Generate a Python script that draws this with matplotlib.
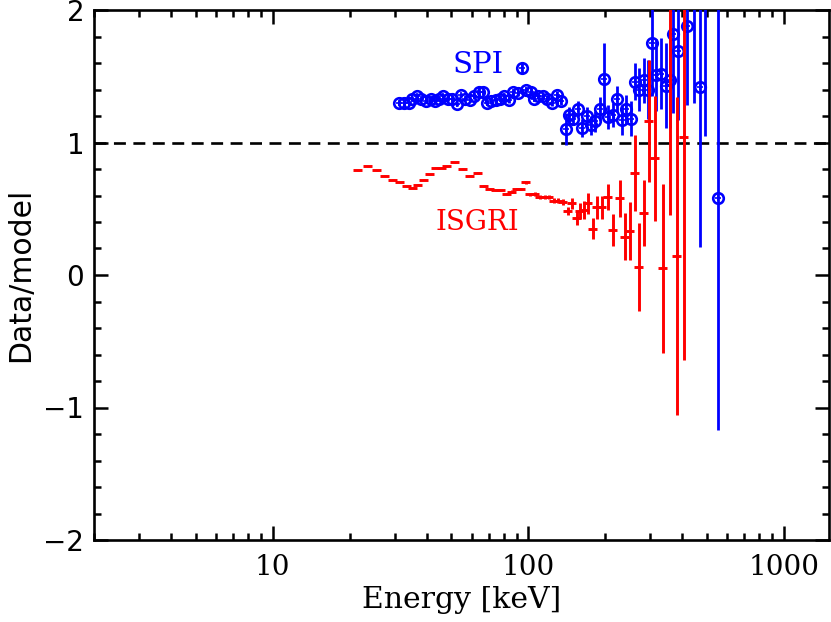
import matplotlib
matplotlib.use("Agg")
import matplotlib.pyplot as plt
from matplotlib.ticker import MultipleLocator, FixedLocator, NullFormatter, LogLocator
import numpy as np

plt.rcParams['lines.scale_dashes'] = False

# ---- SPI data (energy keV, data/model, 1-sigma error) ----
spi_energy = [31.1, 32.6, 34.1, 35.0, 36.6, 38.0, 39.7, 41.5, 43.1, 44.6,
              46.3, 48.4, 50.2, 52.5, 54.4, 56.4, 59.0, 61.2, 64.0, 66.4,
              68.8, 71.3, 74.6, 77.4, 80.2, 83.9, 87.0, 91.0, 94.3, 97.8,
              102.3, 105.1, 108.9, 114.0, 118.1, 123.6, 129.3, 134.1, 140.3, 144.1,
              149.4, 156.3, 162.0, 169.4, 175.7, 182.2, 190.5, 197.5, 204.8, 214.2,
              222.0, 232.3, 240.8, 251.8, 261.1, 270.7, 283.2, 293.6, 304.4, 315.6,
              330.1, 345.3, 357.9, 367.8, 384.7, 417.3, 444.4, 469.1, 490.7, 551.8]
spi_ratio = [1.30, 1.30, 1.30, 1.33, 1.35, 1.33, 1.31, 1.33, 1.31, 1.33,
             1.35, 1.33, 1.33, 1.29, 1.36, 1.33, 1.32, 1.35, 1.38, 1.38,
             1.30, 1.31, 1.32, 1.33, 1.35, 1.32, 1.38, 1.37, 1.56, 1.40,
             1.38, 1.33, 1.35, 1.35, 1.33, 1.30, 1.36, 1.31, 1.10, 1.21,
             1.18, 1.25, 1.11, 1.20, 1.13, 1.16, 1.25, 1.48, 1.19, 1.21,
             1.33, 1.17, 1.25, 1.18, 1.46, 1.40, 1.47, 1.40, 1.75, 1.51,
             1.52, 1.43, 1.47, 1.82, 1.69, 1.88, 2.40, 1.42, 2.30, 0.58]
spi_err = [0.015, 0.015, 0.015, 0.015, 0.015, 0.015, 0.015, 0.015, 0.015, 0.015,
           0.015, 0.015, 0.015, 0.015, 0.015, 0.015, 0.015, 0.02, 0.04, 0.02,
           0.02, 0.02, 0.02, 0.02, 0.02, 0.02, 0.02, 0.02, 0.04, 0.02,
           0.02, 0.02, 0.02, 0.025, 0.025, 0.025, 0.03, 0.03, 0.12, 0.06,
           0.05, 0.06, 0.07, 0.07, 0.07, 0.08, 0.09, 0.27, 0.09, 0.09,
           0.10, 0.11, 0.11, 0.13, 0.14, 0.16, 0.17, 0.22, 0.40, 0.27,
           0.27, 0.32, 0.36, 0.60, 0.52, 0.60, 1.10, 1.21, 1.25, 1.75]

# ---- ISGRI data ----
isgri_energy = [21.5, 23.5, 25.5, 27.4, 29.5, 31.4, 33.5, 35.3, 36.9, 39.0,
                41.2, 43.5, 45.9, 48.0, 51.6, 55.4, 59.0, 63.4, 67.0, 70.7,
                74.6, 78.1, 82.4, 86.2, 90.2, 93.5, 97.8, 101.4, 106.0, 110.9,
                116.0, 120.3, 125.9, 130.5, 136.5, 142.8, 148.0, 154.8, 159.1, 164.9,
                171.0, 178.8, 185.4, 194.0, 204.8, 214.2, 228.1, 238.6, 249.6, 261.1,
                270.7, 283.2, 296.3, 312.7, 336.0, 357.9, 381.3, 406.1]
isgri_ratio = [0.79, 0.82, 0.79, 0.75, 0.72, 0.70, 0.67, 0.66, 0.68, 0.72,
               0.76, 0.81, 0.81, 0.82, 0.85, 0.80, 0.75, 0.77, 0.67, 0.65,
               0.64, 0.64, 0.61, 0.63, 0.65, 0.65, 0.70, 0.61, 0.61, 0.59,
               0.59, 0.59, 0.56, 0.56, 0.55, 0.48, 0.54, 0.43, 0.48, 0.49,
               0.54, 0.35, 0.51, 0.51, 0.59, 0.34, 0.58, 0.29, 0.33, 0.77,
               0.06, 0.47, 1.16, 0.88, 0.05, 2.30, 0.14, 1.04]
isgri_err = [0.004, 0.004, 0.004, 0.004, 0.004, 0.004, 0.004, 0.004, 0.004, 0.004,
             0.004, 0.004, 0.004, 0.004, 0.005, 0.005, 0.005, 0.005, 0.006, 0.006,
             0.007, 0.007, 0.008, 0.009, 0.010, 0.010, 0.012, 0.012, 0.013, 0.014,
             0.015, 0.016, 0.018, 0.020, 0.025, 0.03, 0.04, 0.05, 0.06, 0.07,
             0.08, 0.08, 0.09, 0.09, 0.10, 0.12, 0.14, 0.18, 0.22, 0.29,
             0.33, 0.25, 0.46, 0.47, 0.64, 1.85, 1.20, 1.68]
isgri_bin_frac = 0.04   # half bin width as fraction of energy

x_ticks = [10, 100, 1000]
x_tick_labels = ["10", "100", "1000"]
y_ticks = [-2, -1, 0, 1, 2]
y_tick_labels = ["\u22122", "\u22121", "0", "1", "2"]

W, H = 831, 622
fig = plt.figure(figsize=(W / 100, H / 100), dpi=100)
ax = fig.add_axes([94 / W, 82 / H, 735 / W, 530 / H])

ax.set_xscale('log')
ax.set_xlim(2, 1500)
ax.set_ylim(-2, 2)

# reference line
ax.axhline(1.0, color='black', lw=1.9, ls=(0, (8.6, 5.4)), zorder=1)

# SPI
spi_E = np.array(spi_energy)
ax.errorbar(spi_E, spi_ratio, yerr=spi_err, fmt='o', mfc='none', mec='#0000ff',
            ms=7.6, mew=1.9, ecolor='#0000ff', elinewidth=2.0, capsize=0, zorder=3)
ax.plot(spi_E, spi_ratio, '+', color='#0000ff', ms=4.5, mew=1.2, zorder=3)

# ISGRI
is_E = np.array(isgri_energy)
ax.errorbar(is_E, isgri_ratio, yerr=isgri_err, xerr=is_E * isgri_bin_frac,
            fmt='none', ecolor='#ff0000', elinewidth=2.1, capsize=0, zorder=4)

ax.text(63.4, 1.585, "SPI", color='#0000ff', fontsize=21, family='DejaVu Serif',
        ha='center', va='center')
ax.text(63.0, 0.40, "ISGRI", color='#ff0000', fontsize=20, family='DejaVu Serif',
        ha='center', va='center')

# ticks
ax.xaxis.set_major_locator(FixedLocator(x_ticks))
ax.set_xticklabels(x_tick_labels, family='DejaVu Serif', fontsize=20)
ax.xaxis.set_minor_locator(LogLocator(base=10, subs=np.arange(2, 10)))
ax.xaxis.set_minor_formatter(NullFormatter())
ax.yaxis.set_major_locator(FixedLocator(y_ticks))
ax.set_yticklabels(y_tick_labels, family='DejaVu Sans', fontsize=20)
ax.yaxis.set_minor_locator(MultipleLocator(0.2))

ax.tick_params(which='both', direction='in', top=True, right=True, width=1.8)
ax.tick_params(which='major', length=10)
ax.tick_params(which='minor', length=5)
ax.tick_params(axis='x', which='major', pad=10)
ax.tick_params(axis='y', which='major', pad=7)
for s in ax.spines.values():
    s.set_linewidth(1.9)

ax.set_xlabel("Energy [keV]", family='DejaVu Serif', fontsize=21.5, labelpad=4)
ax.set_ylabel("Data/model", family='DejaVu Sans', fontsize=21.5, labelpad=6)

fig.savefig("out.png", dpi=100)
